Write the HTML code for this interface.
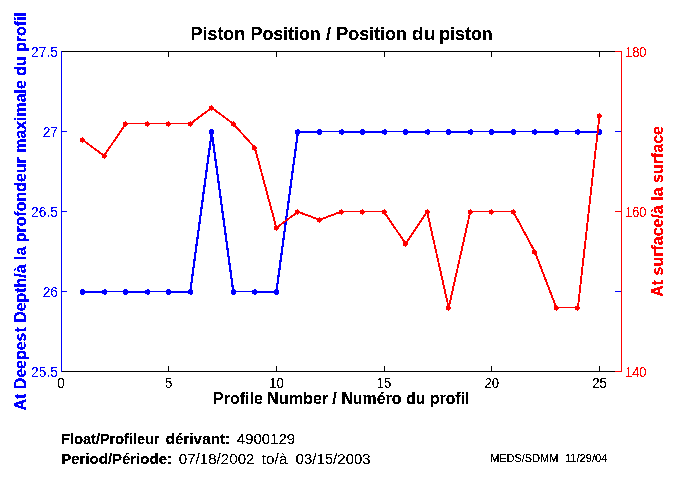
<!DOCTYPE html>
<html lang="en">
<head>
<meta charset="utf-8">
<title>Piston Position / Position du piston</title>
<style>
html,body{margin:0;padding:0;background:#ffffff;}
body{width:680px;height:500px;overflow:hidden;}
svg{display:block;font-family:"Liberation Sans",sans-serif;}
.b{font-weight:bold;}
</style>
</head>
<body>
<svg width="680" height="500" viewBox="0 0 680 500">
<rect x="0" y="0" width="680" height="500" fill="#ffffff"/>

<g shape-rendering="crispEdges" fill="none" stroke-width="1">
<path d="M61 51.5H622M61 371.5H622" stroke="#000000"/>
<path d="M168.5 371V366M168.5 52V57M276.5 371V366M276.5 52V57M384.5 371V366M384.5 52V57M491.5 371V366M491.5 52V57M599.5 371V366M599.5 52V57" stroke="#000000"/>
<path d="M61.5 51V372M62 291.5H67M621 291.5H615M62 211.5H67M621 211.5H615M62 131.5H67M621 131.5H615" stroke="#0000ff"/>
<path d="M621.5 51V372M621 371.5H615M621 211.5H615M621 51.5H615" stroke="#ff0000"/>
</g>
<g shape-rendering="crispEdges">
<rect x="82.54" y="291" width="21.54" height="2" fill="#0000ff"/>
<rect x="104.08" y="291" width="21.54" height="1" fill="#0000ff"/>
<rect x="125.62" y="291" width="21.54" height="2" fill="#0000ff"/>
<rect x="147.15" y="291" width="21.54" height="1" fill="#0000ff"/>
<rect x="168.69" y="291" width="21.54" height="2" fill="#0000ff"/>
<line x1="190.23" y1="292.00" x2="211.77" y2="132.00" stroke="#0000ff" stroke-width="2.2"/>
<line x1="211.77" y1="132.00" x2="233.31" y2="292.00" stroke="#0000ff" stroke-width="2.2"/>
<rect x="233.31" y="291" width="21.54" height="1" fill="#0000ff"/>
<rect x="254.85" y="291" width="21.54" height="2" fill="#0000ff"/>
<line x1="276.38" y1="292.00" x2="297.92" y2="132.00" stroke="#0000ff" stroke-width="2.2"/>
<rect x="297.92" y="131" width="21.54" height="2" fill="#0000ff"/>
<rect x="319.46" y="131" width="21.54" height="1" fill="#0000ff"/>
<rect x="341.00" y="131" width="21.54" height="2" fill="#0000ff"/>
<rect x="362.54" y="131" width="21.54" height="2" fill="#0000ff"/>
<rect x="384.08" y="131" width="21.54" height="1" fill="#0000ff"/>
<rect x="405.62" y="131" width="21.54" height="2" fill="#0000ff"/>
<rect x="427.15" y="131" width="21.54" height="1" fill="#0000ff"/>
<rect x="448.69" y="131" width="21.54" height="2" fill="#0000ff"/>
<rect x="470.23" y="131" width="21.54" height="1" fill="#0000ff"/>
<rect x="491.77" y="131" width="21.54" height="2" fill="#0000ff"/>
<rect x="513.31" y="131" width="21.54" height="1" fill="#0000ff"/>
<rect x="534.85" y="131" width="21.54" height="2" fill="#0000ff"/>
<rect x="556.38" y="131" width="21.54" height="1" fill="#0000ff"/>
<rect x="577.92" y="131" width="21.54" height="2" fill="#0000ff"/>
<path d="M80.0 290h5v4h-5zM81.0 289h3v6h-3zM102.0 290h5v4h-5zM104.0 289h2v6h-2zM123.0 290h5v4h-5zM124.0 289h3v6h-3zM145.0 290h5v4h-5zM147.0 289h2v6h-2zM166.0 290h5v4h-5zM167.0 289h3v6h-3zM188.0 290h5v4h-5zM190.0 289h2v6h-2zM209.0 130h5v4h-5zM210.0 129h3v6h-3zM231.0 290h5v4h-5zM232.0 289h3v6h-3zM252.0 290h5v4h-5zM254.0 289h2v6h-2zM274.0 290h5v4h-5zM275.0 289h3v6h-3zM295.0 130h5v4h-5zM297.0 129h2v6h-2zM317.0 130h5v4h-5zM318.0 129h3v6h-3zM339.0 130h5v4h-5zM341.0 129h2v6h-2zM360.0 130h5v4h-5zM361.0 129h3v6h-3zM382.0 130h5v4h-5zM384.0 129h2v6h-2zM403.0 130h5v4h-5zM404.0 129h3v6h-3zM425.0 130h5v4h-5zM427.0 129h2v6h-2zM446.0 130h5v4h-5zM447.0 129h3v6h-3zM468.0 130h5v4h-5zM470.0 129h2v6h-2zM489.0 130h5v4h-5zM490.0 129h3v6h-3zM511.0 130h5v4h-5zM512.0 129h3v6h-3zM532.0 130h5v4h-5zM534.0 129h2v6h-2zM554.0 130h5v4h-5zM555.0 129h3v6h-3zM575.0 130h5v4h-5zM577.0 129h2v6h-2zM597.0 130h5v4h-5zM598.0 129h3v6h-3z" fill="#0000ff"/>
<line x1="82.54" y1="139.80" x2="104.08" y2="155.80" stroke="#ff0000" stroke-width="1.9"/>
<line x1="104.08" y1="155.80" x2="125.62" y2="123.80" stroke="#ff0000" stroke-width="1.9"/>
<rect x="125.62" y="123" width="21.54" height="1" fill="#ff0000"/>
<rect x="147.15" y="123" width="21.54" height="1" fill="#ff0000"/>
<rect x="168.69" y="123" width="21.54" height="1" fill="#ff0000"/>
<line x1="190.23" y1="123.80" x2="211.77" y2="107.80" stroke="#ff0000" stroke-width="1.9"/>
<line x1="211.77" y1="107.80" x2="233.31" y2="123.80" stroke="#ff0000" stroke-width="1.9"/>
<line x1="233.31" y1="123.80" x2="254.85" y2="147.80" stroke="#ff0000" stroke-width="1.9"/>
<line x1="254.85" y1="147.80" x2="276.38" y2="227.80" stroke="#ff0000" stroke-width="1.9"/>
<line x1="276.38" y1="227.80" x2="297.92" y2="211.80" stroke="#ff0000" stroke-width="1.9"/>
<line x1="297.92" y1="211.80" x2="319.46" y2="219.80" stroke="#ff0000" stroke-width="1.9"/>
<line x1="319.46" y1="219.80" x2="341.00" y2="211.80" stroke="#ff0000" stroke-width="1.9"/>
<rect x="341.00" y="211" width="21.54" height="1" fill="#ff0000"/>
<rect x="362.54" y="211" width="21.54" height="1" fill="#ff0000"/>
<line x1="384.08" y1="211.80" x2="405.62" y2="243.80" stroke="#ff0000" stroke-width="1.9"/>
<line x1="405.62" y1="243.80" x2="427.15" y2="211.80" stroke="#ff0000" stroke-width="1.9"/>
<line x1="427.15" y1="211.80" x2="448.69" y2="307.80" stroke="#ff0000" stroke-width="1.9"/>
<line x1="448.69" y1="307.80" x2="470.23" y2="211.80" stroke="#ff0000" stroke-width="1.9"/>
<rect x="470.23" y="211" width="21.54" height="1" fill="#ff0000"/>
<rect x="491.77" y="211" width="21.54" height="1" fill="#ff0000"/>
<line x1="513.31" y1="211.80" x2="534.85" y2="251.80" stroke="#ff0000" stroke-width="1.9"/>
<line x1="534.85" y1="251.80" x2="556.38" y2="307.80" stroke="#ff0000" stroke-width="1.9"/>
<rect x="556.38" y="307" width="21.54" height="1" fill="#ff0000"/>
<line x1="577.92" y1="307.80" x2="599.46" y2="115.80" stroke="#ff0000" stroke-width="1.9"/>
<path d="M80 138h4v4h-4zM82 137h1v6h-1zM84 139h1v2h-1zM102 154h4v4h-4zM104 153h1v6h-1zM106 155h1v2h-1zM123 122h4v4h-4zM125 121h1v6h-1zM127 123h1v2h-1zM145 122h4v4h-4zM147 121h1v6h-1zM149 123h1v2h-1zM166 122h4v4h-4zM168 121h1v6h-1zM170 123h1v2h-1zM188 122h4v4h-4zM190 121h1v6h-1zM192 123h1v2h-1zM209 106h4v4h-4zM211 105h1v6h-1zM213 107h1v2h-1zM231 122h4v4h-4zM233 121h1v6h-1zM235 123h1v2h-1zM252 146h4v4h-4zM254 145h1v6h-1zM256 147h1v2h-1zM274 226h4v4h-4zM276 225h1v6h-1zM278 227h1v2h-1zM295 210h4v4h-4zM297 209h1v6h-1zM299 211h1v2h-1zM317 218h4v4h-4zM319 217h1v6h-1zM321 219h1v2h-1zM339 210h4v4h-4zM341 209h1v6h-1zM343 211h1v2h-1zM360 210h4v4h-4zM362 209h1v6h-1zM364 211h1v2h-1zM382 210h4v4h-4zM384 209h1v6h-1zM386 211h1v2h-1zM403 242h4v4h-4zM405 241h1v6h-1zM407 243h1v2h-1zM425 210h4v4h-4zM427 209h1v6h-1zM429 211h1v2h-1zM446 306h4v4h-4zM448 305h1v6h-1zM450 307h1v2h-1zM468 210h4v4h-4zM470 209h1v6h-1zM472 211h1v2h-1zM489 210h4v4h-4zM491 209h1v6h-1zM493 211h1v2h-1zM511 210h4v4h-4zM513 209h1v6h-1zM515 211h1v2h-1zM532 250h4v4h-4zM534 249h1v6h-1zM536 251h1v2h-1zM554 306h4v4h-4zM556 305h1v6h-1zM558 307h1v2h-1zM575 306h4v4h-4zM577 305h1v6h-1zM579 307h1v2h-1zM597 114h4v4h-4zM599 113h1v6h-1zM601 115h1v2h-1z" fill="#ff0000"/>
</g>
<defs><filter id="th" filterUnits="userSpaceOnUse" x="0" y="0" width="680" height="500" color-interpolation-filters="sRGB"><feComponentTransfer><feFuncA type="discrete" tableValues="0 0 1 1 1"/></feComponentTransfer></filter><filter id="th2" filterUnits="userSpaceOnUse" x="0" y="0" width="680" height="500" color-interpolation-filters="sRGB"><feComponentTransfer><feFuncA type="discrete" tableValues="0 0 0 0 1 1 1 1 1"/></feComponentTransfer></filter></defs>
<g filter="url(#th)">
<text class="b" x="190.55" y="40" font-size="18" textLength="54.65" lengthAdjust="spacingAndGlyphs">Piston</text>
<text class="b" x="250.55" y="40" font-size="18" textLength="70.15" lengthAdjust="spacingAndGlyphs">Position</text>
<text class="b" x="328.50" y="40" font-size="18" text-anchor="middle">/</text>
<text class="b" x="336.30" y="40" font-size="18" textLength="70.65" lengthAdjust="spacingAndGlyphs">Position</text>
<text class="b" x="411.80" y="40" font-size="18" textLength="23.90" lengthAdjust="spacingAndGlyphs">du</text>
<text class="b" x="439.30" y="40" font-size="18" textLength="53.40" lengthAdjust="spacingAndGlyphs">piston</text>
<text class="b" x="212.95" y="404" font-size="16" textLength="49.95" lengthAdjust="spacingAndGlyphs">Profile</text>
<text class="b" x="267.10" y="404" font-size="16" textLength="61.10" lengthAdjust="spacingAndGlyphs">Number</text>
<text class="b" x="334.50" y="404" font-size="16" text-anchor="middle">/</text>
<text class="b" x="341.40" y="404" font-size="16" textLength="60.00" lengthAdjust="spacingAndGlyphs">Numéro</text>
<text class="b" x="406.20" y="404" font-size="16" textLength="18.90" lengthAdjust="spacingAndGlyphs">du</text>
<text class="b" x="429.90" y="404" font-size="16" textLength="39.50" lengthAdjust="spacingAndGlyphs">profil</text>
<text class="b" transform="translate(26 410.5) rotate(-90)" font-size="16" fill="#0000ff" textLength="398.5" lengthAdjust="spacingAndGlyphs">At Deepest Depth/à la profondeur maximale du profil</text>
<text class="b" transform="translate(663 296.7) rotate(-90)" font-size="16" fill="#ff0000" textLength="170.7" lengthAdjust="spacingAndGlyphs">At surface/à la surface</text>
</g>
<g filter="url(#th2)">
<text x="31.1" y="57.0" font-size="14" fill="#0000ff" textLength="26.8" lengthAdjust="spacingAndGlyphs">27.5</text>
<text x="42.7" y="137.0" font-size="14" fill="#0000ff" textLength="15.2" lengthAdjust="spacingAndGlyphs">27</text>
<text x="31.1" y="217.0" font-size="14" fill="#0000ff" textLength="26.8" lengthAdjust="spacingAndGlyphs">26.5</text>
<text x="42.7" y="297.0" font-size="14" fill="#0000ff" textLength="15.2" lengthAdjust="spacingAndGlyphs">26</text>
<text x="31.1" y="377.0" font-size="14" fill="#0000ff" textLength="26.8" lengthAdjust="spacingAndGlyphs">25.5</text>
<text x="625" y="57.0" font-size="14" fill="#ff0000" textLength="21.5" lengthAdjust="spacingAndGlyphs">180</text>
<text x="625" y="217.0" font-size="14" fill="#ff0000" textLength="21.5" lengthAdjust="spacingAndGlyphs">160</text>
<text x="625" y="377.0" font-size="14" fill="#ff0000" textLength="21.5" lengthAdjust="spacingAndGlyphs">140</text>
<text x="61.0" y="388" font-size="14" text-anchor="middle">0</text>
<text x="168.7" y="388" font-size="14" text-anchor="middle">5</text>
<text x="276.4" y="388" font-size="14" text-anchor="middle" textLength="14.6" lengthAdjust="spacingAndGlyphs">10</text>
<text x="384.1" y="388" font-size="14" text-anchor="middle" textLength="14.6" lengthAdjust="spacingAndGlyphs">15</text>
<text x="491.8" y="388" font-size="14" text-anchor="middle" textLength="14.6" lengthAdjust="spacingAndGlyphs">20</text>
<text x="599.5" y="388" font-size="14" text-anchor="middle" textLength="14.6" lengthAdjust="spacingAndGlyphs">25</text>
<text x="236.80" y="444" font-size="14" textLength="58.40" lengthAdjust="spacingAndGlyphs">4900129</text>
<text x="178.80" y="463.5" font-size="14" textLength="75.65" lengthAdjust="spacingAndGlyphs">07/18/2002</text>
<text x="261.80" y="463.5" font-size="14" textLength="25.65" lengthAdjust="spacingAndGlyphs">to/à</text>
<text x="295.55" y="463.5" font-size="14" textLength="75.15" lengthAdjust="spacingAndGlyphs">03/15/2003</text>
</g>
<g filter="url(#th)">
<text x="490.20" y="462" font-size="11" textLength="68.10" lengthAdjust="spacingAndGlyphs">MEDS/SDMM</text>
<text x="564.90" y="462" font-size="11" textLength="42.60" lengthAdjust="spacingAndGlyphs">11/29/04</text>
<text class="b" x="61.30" y="444" font-size="14" textLength="98.15" lengthAdjust="spacingAndGlyphs">Float/Profileur</text>
<text class="b" x="165.55" y="444" font-size="14" textLength="64.65" lengthAdjust="spacingAndGlyphs">dérivant:</text>
<text class="b" x="61.30" y="463.5" font-size="14" textLength="110.65" lengthAdjust="spacingAndGlyphs">Period/Période:</text>
</g>
</svg>
</body>
</html>
